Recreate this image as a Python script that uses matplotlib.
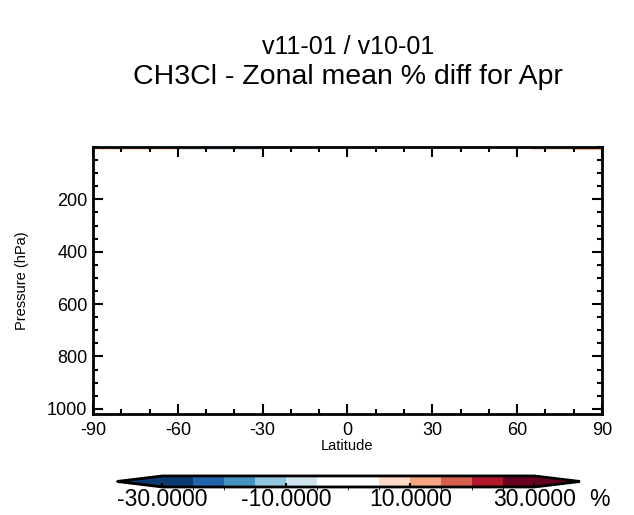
import numpy as np
import matplotlib.pyplot as plt
import matplotlib as mpl
from matplotlib.colors import ListedColormap, BoundaryNorm

mpl.rcParams['font.family'] = ['Liberation Sans', 'DejaVu Sans']
mpl.rcParams['axes.unicode_minus'] = False

# zonal bands (edges) and % diff in the topmost level
lat_edges = [-90, -60, -30, 65, 80, 90]
p_edges = [0, 10]
diff_top = [7, -7, 0, 7, 12]

levels = [-30, -25, -20, -15, -10, -5, 0, 5, 10, 15, 20, 25, 30]
cols = ['#0a3a70', '#2166ac', '#4393c3', '#92c5de', '#d1e5f0', '#ffffff',
        '#ffffff', '#fddbc7', '#f4a582', '#d6604d', '#b2182b', '#67001f']
cbar_ticks = [-30, -10, 10, 30]

cmap = ListedColormap(cols)
cmap.set_under('#0a3a70')
cmap.set_over('#67001f')
norm = BoundaryNorm(levels, cmap.N)

fig = plt.figure(figsize=(6.34, 5.15), dpi=100)
ax = fig.add_axes([0.1467, 0.1961, 0.8028, 0.5185])

X, Y = np.meshgrid(lat_edges, p_edges)
Z = np.array([diff_top])
mesh = ax.pcolormesh(X, Y, Z, cmap=cmap, norm=norm)

ax.set_xlim(-90, 90)
ax.set_ylim(1020, 0)
ax.set_xticks([-90, -60, -30, 0, 30, 60, 90])
ax.set_xticks(np.arange(-90, 91, 10), minor=True)
ax.set_yticks([200, 400, 600, 800, 1000])
ax.set_yticks(np.arange(0, 1001, 50), minor=True)
ax.tick_params(which='both', direction='in', top=True, right=True, width=1.5,
               labelsize=13)
ax.tick_params(which='major', length=7)
ax.tick_params(which='minor', length=3.5)
ax.tick_params(axis='x', pad=6)
ax.tick_params(axis='y', pad=4)
for s in ax.spines.values():
    s.set_linewidth(2)
ax.set_xlabel('Latitude', fontsize=10.5, labelpad=0)
ax.set_ylabel('Pressure (hPa)', fontsize=10.5, labelpad=13)

fig.text(0.549, 0.908, 'v11-01 / v10-01', ha='center', va='center', fontsize=18)
fig.text(0.549, 0.850, 'CH3Cl - Zonal mean % diff for Apr', ha='center', va='center', fontsize=20.5)

cax = fig.add_axes([0.1845, 0.0544, 0.7303, 0.0214])
cb = fig.colorbar(mesh, cax=cax, orientation='horizontal', extend='both',
                  extendfrac=0.1223, ticks=cbar_ticks, drawedges=False)
cb.outline.set_linewidth(2)
cb.ax.tick_params(labelsize=16.5, length=3, width=1.5, direction='in', pad=1)
cb.ax.set_xticklabels(['%.4f' % t for t in cbar_ticks])
fig.text(0.945, 0.03, '%', fontsize=16.5, ha='center', va='center')

fig.savefig('out.png', dpi=100)
